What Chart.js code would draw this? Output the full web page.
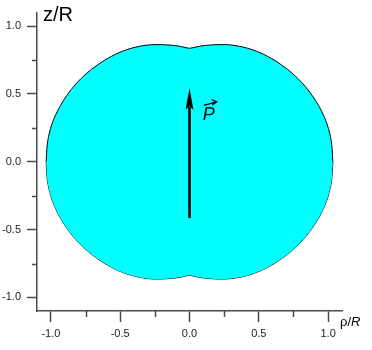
<!DOCTYPE html>
<html>
<head>
<meta charset="utf-8">
<script src="https://cdn.jsdelivr.net/npm/chart.js@4.4.1/dist/chart.umd.min.js"></script>
<style>
  html, body { margin: 0; padding: 0; background: #fff; }
  #wrap { width: 372px; height: 350px; }
</style>
</head>
<body>
<div id="wrap"><canvas id="shapeChart"></canvas></div>
<script>
// Outline of the shape (rho/R, z/R)
const rhoUpper = [-1.034, -1.026, -1.012, -0.990, -0.963, -0.931, -0.884, -0.819, -0.746, -0.665, -0.564, -0.451, -0.329, -0.232, -0.116, -0.052, 0,
                  0.052, 0.116, 0.232, 0.329, 0.451, 0.564, 0.665, 0.746, 0.819, 0.884, 0.931, 0.963, 0.990, 1.012, 1.026, 1.034];
const zUpper   = [0, 0.126, 0.206, 0.284, 0.351, 0.414, 0.490, 0.574, 0.648, 0.713, 0.777, 0.827, 0.857, 0.864, 0.858, 0.848, 0.837,
                  0.848, 0.858, 0.864, 0.857, 0.827, 0.777, 0.713, 0.648, 0.574, 0.490, 0.414, 0.351, 0.284, 0.206, 0.126, 0];

const rhoLower = [-1.034, -1.026, -1.012, -0.990, -0.963, -0.931, -0.884, -0.819, -0.746, -0.665, -0.564, -0.451, -0.329, -0.232, -0.116, -0.052, 0,
                  0.052, 0.116, 0.232, 0.329, 0.451, 0.564, 0.665, 0.746, 0.819, 0.884, 0.931, 0.963, 0.990, 1.012, 1.026, 1.034];
const zLower   = [0, -0.126, -0.206, -0.284, -0.351, -0.414, -0.490, -0.574, -0.648, -0.713, -0.777, -0.827, -0.857, -0.864, -0.858, -0.848, -0.837,
                  -0.848, -0.858, -0.864, -0.857, -0.827, -0.777, -0.713, -0.648, -0.574, -0.490, -0.414, -0.351, -0.284, -0.206, -0.126, 0];

// Polarisation vector (tail -> tip)
const arrowRho = [0, 0];
const arrowZ = [-0.415, 0.545];
const vectorLabelPos = { rho: 0.095, z: 0.305 };

const majorTicks = [-1.0, -0.5, 0.0, 0.5, 1.0];
const minorTicks = [-0.75, -0.25, 0.25, 0.75];

const FONT = "Arial, 'Liberation Sans', sans-serif";
const AXIS_COLOR = '#4a4a4a';

const toPoints = (xs, ys) => xs.map((x, i) => ({ x: x, y: ys[i] }));

const decorations = {
    id: 'decorations',
    afterDraw(chart) {
        const { ctx, scales: { x, y }, chartArea } = chart;
        ctx.save();

        // minor ticks
        ctx.strokeStyle = AXIS_COLOR;
        ctx.lineWidth = 1.5;
        minorTicks.forEach(v => {
            const py = Math.round(y.getPixelForValue(v)) + 0.5;
            ctx.beginPath();
            ctx.moveTo(chartArea.left, py);
            ctx.lineTo(chartArea.left - 5, py);
            ctx.stroke();
            const px = Math.round(x.getPixelForValue(v)) + 0.5;
            ctx.beginPath();
            ctx.moveTo(px, chartArea.bottom);
            ctx.lineTo(px, chartArea.bottom + 6);
            ctx.stroke();
        });

        // arrow
        const x0 = x.getPixelForValue(arrowRho[0]);
        const y0 = y.getPixelForValue(arrowZ[0]);
        const x1 = x.getPixelForValue(arrowRho[1]);
        const y1 = y.getPixelForValue(arrowZ[1]);
        const headLen = 22, headHalf = 4;
        ctx.strokeStyle = '#000';
        ctx.fillStyle = '#000';
        ctx.lineWidth = 2.6;
        ctx.beginPath();
        ctx.moveTo(x0, y0);
        ctx.lineTo(x1, y1 + headLen - 3);
        ctx.stroke();
        ctx.beginPath();
        ctx.moveTo(x1, y1);
        ctx.lineTo(x1 - headHalf, y1 + headLen);
        ctx.lineTo(x1, y1 + headLen - 4);
        ctx.lineTo(x1 + headHalf, y1 + headLen);
        ctx.closePath();
        ctx.fill();

        // vector label P with arrow on top
        const lx = x.getPixelForValue(vectorLabelPos.rho);
        const ly = y.getPixelForValue(vectorLabelPos.z);
        ctx.font = 'italic 18px ' + FONT;
        ctx.textBaseline = 'alphabetic';
        ctx.textAlign = 'left';
        ctx.fillText('P', lx, ly);
        ctx.lineWidth = 1.2;
        ctx.beginPath();
        ctx.moveTo(lx + 1, ly - 15);
        ctx.lineTo(lx + 14, ly - 18.5);
        ctx.moveTo(lx + 9, ly - 21);
        ctx.lineTo(lx + 14, ly - 18.5);
        ctx.lineTo(lx + 9.5, ly - 15.5);
        ctx.stroke();

        // axis titles
        ctx.fillStyle = '#000';
        ctx.font = '20px ' + FONT;
        ctx.fillText('z/R', chartArea.left + 6, 21);

        ctx.font = '13px ' + FONT;
        const bx = chartArea.right - 2, by = chartArea.bottom + 15;
        ctx.fillText('\u03c1/', bx, by);
        const w = ctx.measureText('\u03c1/').width;
        ctx.font = 'italic 13px ' + FONT;
        ctx.fillText('R', bx + w, by);

        ctx.restore();
    }
};

const axisCommon = {
    type: 'linear',
    min: -1.1,
    max: 1.1,
    afterBuildTicks: scale => { scale.ticks = majorTicks.map(v => ({ value: v })); },
    grid: {
        drawOnChartArea: false,
        drawTicks: true,
        color: AXIS_COLOR,
        tickColor: AXIS_COLOR,
        tickWidth: 1.5
    },
    border: { display: true, color: AXIS_COLOR, width: 1.5 },
    ticks: {
        color: '#222',
        font: { family: FONT, size: 11 },
        callback: v => v.toFixed(1)
    }
};

new Chart(document.getElementById('shapeChart'), {
    type: 'line',
    data: {
        datasets: [
            {
                data: toPoints(rhoUpper, zUpper),
                borderColor: '#000',
                borderWidth: 1,
                backgroundColor: '#00ffff',
                fill: '+1',
                pointRadius: 0,
                tension: 0.4
            },
            {
                data: toPoints(rhoLower, zLower),
                borderColor: '#000',
                borderWidth: 1,
                backgroundColor: '#00ffff',
                fill: false,
                pointRadius: 0,
                tension: 0.4
            }
        ]
    },
    options: {
        responsive: true,
        maintainAspectRatio: false,
        animation: false,
        layout: { padding: { left: 0, top: 5, right: 30, bottom: 0 } },
        plugins: {
            legend: { display: false },
            tooltip: { enabled: false }
        },
        scales: {
            x: {
                ...axisCommon,
                grid: { ...axisCommon.grid, tickLength: 11 },
                ticks: { ...axisCommon.ticks, padding: 5, maxRotation: 0 },
                afterFit: scale => { scale.height = 39; }
            },
            y: {
                ...axisCommon,
                grid: { ...axisCommon.grid, tickLength: 10 },
                ticks: { ...axisCommon.ticks, padding: 6 },
                afterFit: scale => { scale.width = 37; }
            }
        }
    },
    plugins: [decorations]
});
</script>
</body>
</html>
